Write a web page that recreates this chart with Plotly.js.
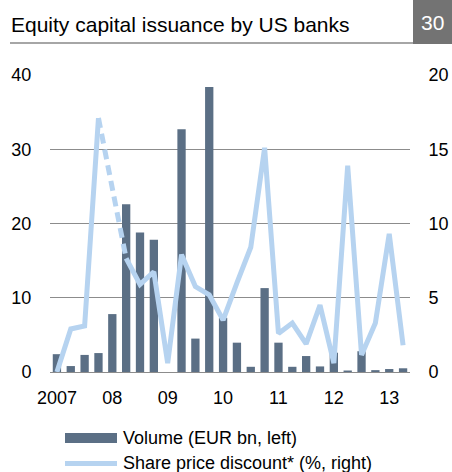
<!DOCTYPE html>
<html>
<head>
<meta charset="utf-8">
<script src="https://cdn.plot.ly/plotly-3.0.1.min.js"></script>
<style>html,body{margin:0;padding:0;background:#fff;}#chart{width:452px;height:472px;}</style>
</head>
<body>
<div id="chart"></div>
<script>
const quarters = ['2007Q1','2007Q2','2007Q3','2007Q4','2008Q1','2008Q2','2008Q3','2008Q4',
  '2009Q1','2009Q2','2009Q3','2009Q4','2010Q1','2010Q2','2010Q3','2010Q4',
  '2011Q1','2011Q2','2011Q3','2011Q4','2012Q1','2012Q2','2012Q3','2012Q4','2013Q1','2013Q2'];
const volume = [2.4, 0.8, 2.3, 2.55, 7.8, 22.6, 18.8, 17.8, 0, 32.7, 4.5, 38.4, 7.3, 3.95, 0.7, 11.3,
  3.95, 0.7, 2.15, 0.75, 2.6, 0.2, 2.8, 0.25, 0.4, 0.5];
const discount = [0, 2.9, 3.1, 17.1, null, 7.65, 5.9, 6.75, 0.6, 7.9, 5.75, 5.2, 3.5, 6.0, 8.4, 15.1,
  2.6, 3.3, 1.9, 4.5, 0.6, 13.9, 1.15, 3.3, 9.3, 1.8];
const tickQuarters = ['2007Q1','2008Q1','2009Q1','2010Q1','2011Q1','2012Q1','2013Q1'];
const tickLabels = ['2007','08','09','10','11','12','13'];
const seriesNames = ['Volume (EUR bn, left)', 'Share price discount* (%, right)'];
const titleText = 'Equity capital issuance by US banks';
const chartNumber = '30';

const barColor = '#5b6f85';
const lineColor = '#b6d3f0';
const gridColor = '#8c8c8c';
const FONT = 'Liberation Sans, Arial, sans-serif';

// dashed segment across the missing quarter
const gapIdx = discount.indexOf(null);
const dashedY = discount.map((v, i) => (i >= gapIdx - 1 && i <= gapIdx + 1) ? v : null);

const W = 452, H = 472, ML = 50, MR = 42, MT = 75, MB = 100;
const PW = W - ML - MR, PH = H - MT - MB;
const px = x => (x - ML) / PW;
const py = y => (H - MB - y) / PH;

const traces = [
  {type: 'bar', x: quarters, y: volume, name: seriesNames[0],
   marker: {color: barColor, line: {width: 0}}, hoverinfo: 'skip'},
  {type: 'scatter', mode: 'lines', x: quarters, y: discount, yaxis: 'y2', name: seriesNames[1],
   connectgaps: false, line: {color: lineColor, width: 5}, hoverinfo: 'skip'},
  {type: 'scatter', mode: 'lines', x: quarters, y: dashedY, yaxis: 'y2', showlegend: false,
   connectgaps: true, line: {color: lineColor, width: 5, dash: '10px,6px'}, hoverinfo: 'skip'}
];

const layout = {
  width: W, height: H,
  margin: {l: ML, r: MR, t: MT, b: MB, pad: 0},
  paper_bgcolor: '#fff', plot_bgcolor: '#fff',
  showlegend: false,
  bargap: 0.4,
  font: {family: FONT, size: 18, color: '#000'},
  xaxis: {type: 'category', categoryorder: 'array', categoryarray: quarters,
    tickmode: 'array', tickvals: tickQuarters, ticktext: tickLabels,
    showgrid: false, showline: true, linecolor: gridColor, linewidth: 1,
    ticks: 'outside', ticklen: 9, tickcolor: 'rgba(0,0,0,0)',
    tickfont: {family: FONT, size: 18, color: '#000'}, fixedrange: true},
  yaxis: {range: [0, 40], tickvals: [0, 10, 20, 30, 40], showgrid: true, gridcolor: gridColor, gridwidth: 1,
    zeroline: false, showline: false, ticks: 'outside', ticklen: 14, tickcolor: 'rgba(0,0,0,0)',
    tickfont: {family: FONT, size: 18, color: '#000'}, fixedrange: true},
  yaxis2: {range: [0, 20], tickvals: [0, 5, 10, 15, 20], overlaying: 'y', side: 'right', showgrid: false,
    zeroline: false, showline: false, ticks: 'outside', ticklen: 14, tickcolor: 'rgba(0,0,0,0)',
    tickfont: {family: FONT, size: 18, color: '#000'}, fixedrange: true},
  shapes: [
    {type: 'line', xref: 'paper', yref: 'paper', x0: px(10), x1: px(413), y0: py(43), y1: py(43),
     line: {color: '#a6a6a6', width: 2}},
    {type: 'rect', xref: 'paper', yref: 'paper', x0: px(413), x1: px(452), y0: py(0), y1: py(44),
     fillcolor: '#737373', line: {width: 0}},
    {type: 'rect', xref: 'paper', yref: 'paper', x0: px(65), x1: px(117), y0: py(433), y1: py(443),
     fillcolor: barColor, line: {width: 0}},
    {type: 'line', xref: 'paper', yref: 'paper', x0: px(65), x1: px(117), y0: py(463.5), y1: py(463.5),
     line: {color: lineColor, width: 5}}
  ],
  annotations: [
    {xref: 'paper', yref: 'paper', x: px(9), y: py(24), xanchor: 'left', yanchor: 'middle',
     text: titleText, showarrow: false, font: {family: FONT, size: 21, color: '#000'}},
    {xref: 'paper', yref: 'paper', x: px(432.5), y: py(23), xanchor: 'center', yanchor: 'middle',
     text: chartNumber, showarrow: false, font: {family: FONT, size: 21, color: '#fff'}},
    {xref: 'paper', yref: 'paper', x: px(121), y: py(438), xanchor: 'left', yanchor: 'middle',
     text: seriesNames[0], showarrow: false, font: {family: FONT, size: 18, color: '#000'}},
    {xref: 'paper', yref: 'paper', x: px(121), y: py(463), xanchor: 'left', yanchor: 'middle',
     text: seriesNames[1], showarrow: false, font: {family: FONT, size: 18, color: '#000'}}
  ]
};

Plotly.newPlot('chart', traces, layout, {staticPlot: true, displayModeBar: false});
</script>
</body>
</html>
